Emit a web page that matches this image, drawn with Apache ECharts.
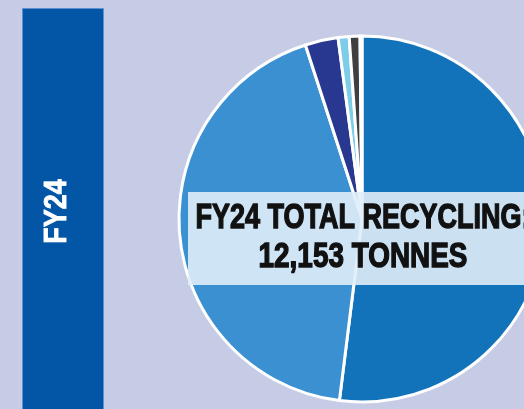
<!DOCTYPE html>
<html>
<head>
<meta charset="utf-8">
<script src="https://cdn.jsdelivr.net/npm/echarts@6/dist/echarts.min.js"></script>
<style>
  html, body { margin: 0; padding: 0; background: #c6cce6; }
  #chart { width: 524px; height: 409px; }
</style>
</head>
<body>
<div id="chart"></div>
<script>
// Recycling streams for the year, in tonnes
const streams = ['Commingled', 'Paper & cardboard', 'Organics', 'Glass', 'Metals', 'E-waste'];
const tonnes = [6316, 5229, 354, 118, 115, 21];
const sliceColors = ['#1273bb', '#3a90d0', '#283891', '#7dcde8', '#3f3f3f', '#c3c8d0'];

const yearLabel = 'FY24';
const totalLines = ['FY24 TOTAL RECYCLING:', '12,153 TONNES'];

const headlineFont = 'bold 30px "Liberation Sans Narrow", "Liberation Sans", sans-serif';

const chart = echarts.init(document.getElementById('chart'), null, { renderer: 'canvas' });

function headline(text, x, y, sx) {
  return {
    type: 'text',
    z: 21,
    x: x,
    y: y,
    scaleX: sx,
    scaleY: 1.15,
    style: {
      text: text,
      fill: '#111111',
      stroke: '#111111',
      lineWidth: 1.2,
      font: headlineFont,
      align: 'center',
      verticalAlign: 'middle'
    }
  };
}

chart.setOption({
  backgroundColor: '#c6cce6',
  animation: false,
  series: [{
    type: 'pie',
    center: [362, 219],
    radius: 183,
    startAngle: 90,
    clockwise: true,
    label: { show: false },
    labelLine: { show: false },
    itemStyle: { borderColor: '#ffffff', borderWidth: 3 },
    data: streams.map((name, i) => ({
      name: name,
      value: tonnes[i],
      itemStyle: { color: sliceColors[i] }
    }))
  }],
  graphic: [
    {
      type: 'rect',
      z: 10,
      shape: { x: 22.5, y: 8.5, width: 81, height: 420 },
      style: { fill: '#0355a5', stroke: '#5d8fd2', lineWidth: 1 }
    },
    {
      type: 'text',
      z: 11,
      x: 57.5,
      y: 211.5,
      rotation: Math.PI / 2,
      scaleX: 0.9,
      scaleY: 1.05,
      style: {
        text: yearLabel,
        fill: '#ffffff',
        stroke: '#ffffff',
        lineWidth: 0.8,
        font: headlineFont,
        align: 'center',
        verticalAlign: 'middle'
      }
    },
    {
      type: 'rect',
      z: 20,
      shape: { x: 188, y: 192, width: 340, height: 93 },
      style: { fill: 'rgba(224, 237, 248, 0.9)' }
    },
    headline(totalLines[0], 363, 218, 0.9),
    headline(totalLines[1], 363, 257, 0.93)
  ]
});
</script>
</body>
</html>
